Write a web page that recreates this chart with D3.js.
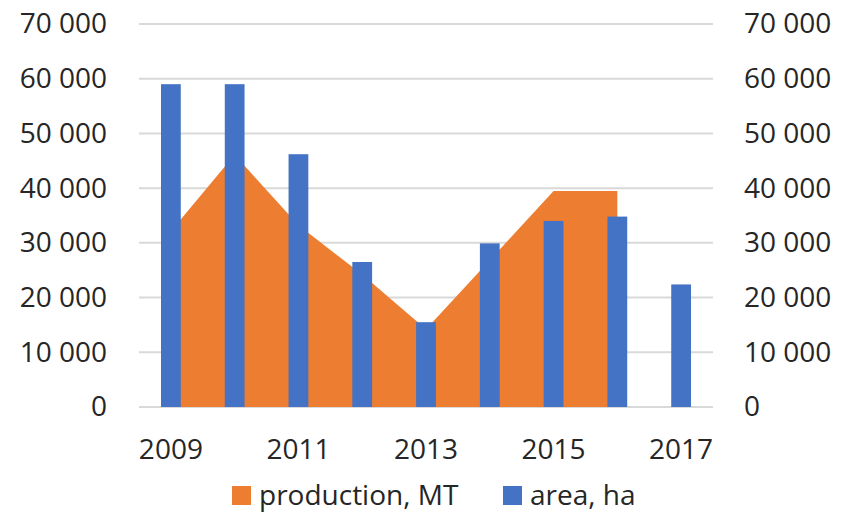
<!DOCTYPE html>
<html>
<head>
<meta charset="utf-8">
<script src="https://cdn.jsdelivr.net/npm/d3@7"></script>
<style>
  body { margin: 0; background: #fff; }
  text { font-family: "Open Sans", sans-serif; fill: #262626; }
</style>
</head>
<body>
<div id="chart"></div>
<script>
const years = ['2009', '2010', '2011', '2012', '2013', '2014', '2015', '2016', '2017'];
const production = [32100, 46100, 33200, 24200, 14200, 26800, 39500, 39500, null];
const area = [59000, 59000, 46200, 26500, 15500, 29900, 34000, 34800, 22400];
const yTicks = [0, 10000, 20000, 30000, 40000, 50000, 60000, 70000];
const xLabels = ['2009', '2011', '2013', '2015', '2017'];

const width = 849, height = 513;
const margin = { top: 24, right: 136, bottom: 106, left: 139 };
const innerW = width - margin.left - margin.right;
const innerH = height - margin.top - margin.bottom;

const svg = d3.select('#chart')
    .append('svg')
    .attr('width', width)
    .attr('height', height);

const g = svg.append('g')
    .attr('transform', `translate(${margin.left},${margin.top})`);

const x = d3.scaleBand()
    .domain(years)
    .range([0, innerW])
    .paddingInner(0.69)
    .paddingOuter(0.345);

const y = d3.scaleLinear()
    .domain([0, 70000])
    .range([innerH, 0]);

const fmt = v => d3.format(',')(v).replace(/,/g, ' ');

// gridlines
g.selectAll('.grid')
    .data(yTicks)
    .enter()
    .append('line')
    .attr('x1', 0)
    .attr('x2', innerW)
    .attr('y1', d => y(d))
    .attr('y2', d => y(d))
    .attr('stroke', '#d9d9d9')
    .attr('stroke-width', 2);

// left + right axes (labels only)
const leftAxis = g.append('g')
    .call(d3.axisLeft(y).tickValues(yTicks).tickFormat(fmt).tickSize(0).tickPadding(32));
const rightAxis = g.append('g')
    .attr('transform', `translate(${innerW},0)`)
    .call(d3.axisRight(y).tickValues(yTicks).tickFormat(fmt).tickSize(0).tickPadding(31));
[leftAxis, rightAxis].forEach(a => {
    a.select('.domain').remove();
    a.selectAll('text')
        .style('font-size', '28px')
        .attr('fill', '#262626');
});

// production area
const cx = d => x(d) + x.bandwidth() / 2;
const areaGen = d3.area()
    .defined(d => d[1] != null)
    .x(d => cx(d[0]))
    .y0(y(0))
    .y1(d => y(d[1]));

g.append('path')
    .datum(years.map((yr, i) => [yr, production[i]]))
    .attr('d', areaGen)
    .attr('fill', '#ed7d31');

// area bars
g.selectAll('.bar')
    .data(years.map((yr, i) => ({ year: yr, value: area[i] })))
    .enter()
    .append('rect')
    .attr('class', 'bar')
    .attr('x', d => x(d.year))
    .attr('width', x.bandwidth())
    .attr('y', d => y(d.value))
    .attr('height', d => innerH - y(d.value))
    .attr('fill', '#4472c4');

// x axis labels
const xAxis = g.append('g')
    .attr('transform', `translate(0,${innerH})`)
    .call(d3.axisBottom(x).tickValues(xLabels).tickSize(0).tickPadding(32));
xAxis.select('.domain').remove();
xAxis.selectAll('text')
    .style('font-size', '28px')
    .attr('fill', '#262626');

// legend
const legend = svg.append('g')
    .attr('transform', 'translate(232, 486)');
const items = [
    { label: 'production, MT', color: '#ed7d31', x: 0 },
    { label: 'area, ha', color: '#4472c4', x: 271 }
];
items.forEach(it => {
    legend.append('rect')
        .attr('x', it.x)
        .attr('y', 0)
        .attr('width', 19)
        .attr('height', 19)
        .attr('fill', it.color);
    legend.append('text')
        .attr('x', it.x + 27)
        .attr('y', 9)
        .attr('dy', '0.35em')
        .style('font-size', '28px')
        .text(it.label);
});
</script>
</body>
</html>
